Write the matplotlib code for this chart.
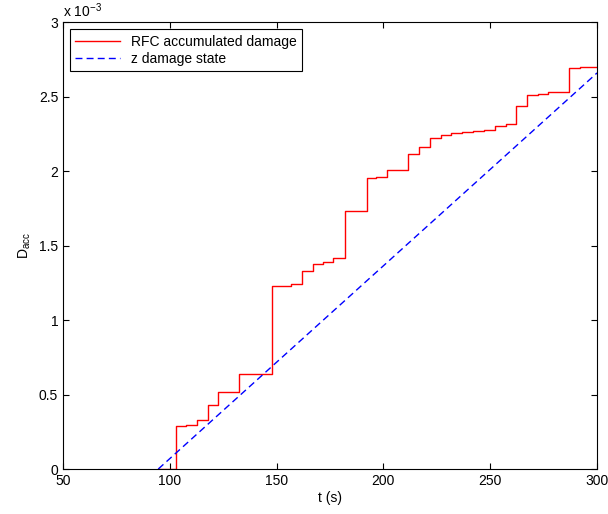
import matplotlib
matplotlib.use("Agg")
import matplotlib.pyplot as plt

# step times (s) and accumulated damage (units of 1e-3)
t_rfc = [94.6, 102.9, 107.8, 112.8, 117.8, 122.6, 132.4, 147.8, 156.8, 162.0,
         167.1, 171.9, 176.6, 182.1, 192.2, 196.6, 201.5, 211.4, 216.5, 221.8,
         226.8, 231.8, 236.8, 241.7, 246.9, 252.0, 257.2, 262.2, 267.4, 272.2,
         277.2, 287.1, 292.1, 300.0]
d_rfc = [0.0, 0.287, 0.293, 0.331, 0.433, 0.515, 0.638, 1.229, 1.240, 1.328,
         1.379, 1.393, 1.415, 1.735, 1.955, 1.962, 2.005, 2.115, 2.165, 2.222,
         2.240, 2.255, 2.265, 2.272, 2.279, 2.302, 2.315, 2.436, 2.510, 2.521,
         2.534, 2.691, 2.700, 2.700]

# z damage state line (units of 1e-3)
t_z = [94.6, 300.0]
d_z = [0.0, 2.66]

xticks = [50, 100, 150, 200, 250, 300]
yticks = [0, 0.5, 1, 1.5, 2, 2.5, 3]
ytick_labels = ["0", "0.5", "1", "1.5", "2", "2.5", "3"]

plt.rcParams["font.family"] = "Liberation Sans"
plt.rcParams["mathtext.fontset"] = "custom"
plt.rcParams["mathtext.rm"] = "Liberation Sans"
plt.rcParams["mathtext.it"] = "Liberation Sans"
plt.rcParams["font.size"] = 10

fig = plt.figure(figsize=(6.08, 5.14), dpi=100)
ax = fig.add_axes([0.1036, 0.0875, 0.8784, 0.8691])

ax.step(t_rfc, d_rfc, where="post", color="red", lw=1.0,
        label="RFC accumulated damage")
ax.plot(t_z, d_z, color="blue", lw=1.0, dashes=(5, 3),
        label="z damage state")

ax.set_xlim(50, 300)
ax.set_ylim(0, 3)
ax.set_xticks(xticks)
ax.set_yticks(yticks)
ax.set_yticklabels(ytick_labels)
ax.tick_params(direction="in", top=True, right=True, length=4, width=0.8)
for s in ax.spines.values():
    s.set_linewidth(0.8)

ax.set_xlabel("t (s)", labelpad=2)
ax.set_ylabel(r"D$_{\mathrm{acc}}$", labelpad=4)
ax.text(0.0, 1.005, r"x 10$^{-3}$", transform=ax.transAxes,
        ha="left", va="bottom")

leg = ax.legend(loc="upper left", fancybox=False, framealpha=1,
                edgecolor="black", handlelength=3.2, borderaxespad=0.5,
                labelspacing=0.2)
leg.get_frame().set_linewidth(0.8)

fig.savefig("out.png", dpi=100)
